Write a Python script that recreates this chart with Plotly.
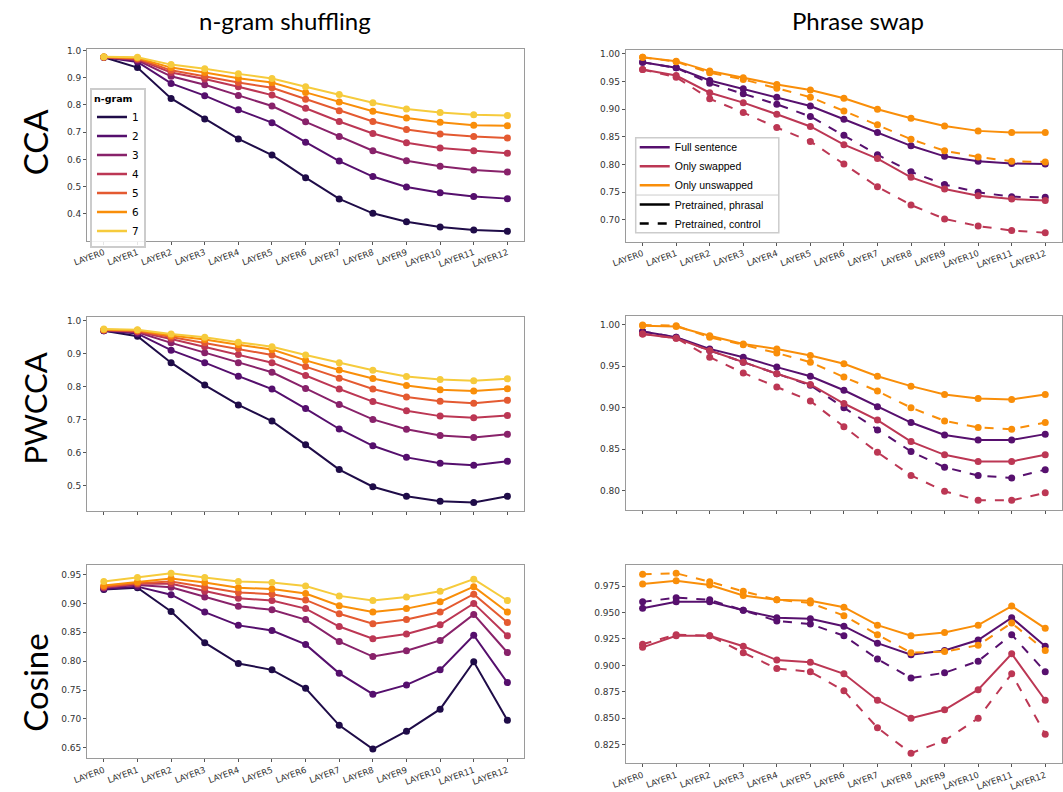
import plotly.graph_objects as go

W, H = 1063, 792

layers = ["LAYER0", "LAYER1", "LAYER2", "LAYER3", "LAYER4", "LAYER5", "LAYER6",
          "LAYER7", "LAYER8", "LAYER9", "LAYER10", "LAYER11", "LAYER12"]
ngram_names = ["1", "2", "3", "4", "5", "6", "7"]

# ---- CCA, n-gram shuffling
cca_ng1 = [0.975, 0.937, 0.824, 0.748, 0.675, 0.616, 0.533, 0.455, 0.402, 0.371, 0.352, 0.341, 0.336]
cca_ng2 = [0.975, 0.958, 0.879, 0.834, 0.782, 0.735, 0.663, 0.594, 0.537, 0.499, 0.478, 0.464, 0.456]
cca_ng3 = [0.975, 0.964, 0.905, 0.874, 0.835, 0.796, 0.738, 0.684, 0.632, 0.595, 0.575, 0.561, 0.554]
cca_ng4 = [0.975, 0.967, 0.919, 0.895, 0.867, 0.836, 0.788, 0.739, 0.695, 0.661, 0.642, 0.632, 0.623]
cca_ng5 = [0.976, 0.970, 0.927, 0.905, 0.882, 0.863, 0.821, 0.779, 0.739, 0.710, 0.693, 0.684, 0.679]
cca_ng6 = [0.976, 0.972, 0.937, 0.919, 0.898, 0.882, 0.846, 0.811, 0.777, 0.752, 0.736, 0.725, 0.724]
cca_ng7 = [0.977, 0.975, 0.948, 0.933, 0.914, 0.897, 0.867, 0.838, 0.808, 0.785, 0.772, 0.764, 0.761]

# ---- PWCCA, n-gram shuffling
pw_ng1 = [0.970, 0.953, 0.873, 0.805, 0.745, 0.696, 0.624, 0.549, 0.497, 0.468, 0.453, 0.449, 0.468]
pw_ng2 = [0.970, 0.961, 0.911, 0.873, 0.832, 0.793, 0.734, 0.672, 0.621, 0.586, 0.568, 0.562, 0.574]
pw_ng3 = [0.971, 0.965, 0.933, 0.903, 0.873, 0.844, 0.795, 0.746, 0.701, 0.671, 0.652, 0.646, 0.656]
pw_ng4 = [0.972, 0.967, 0.945, 0.921, 0.898, 0.873, 0.834, 0.793, 0.755, 0.727, 0.711, 0.706, 0.713]
pw_ng5 = [0.972, 0.969, 0.951, 0.933, 0.916, 0.896, 0.861, 0.826, 0.793, 0.769, 0.756, 0.750, 0.759]
pw_ng6 = [0.973, 0.971, 0.955, 0.943, 0.927, 0.913, 0.880, 0.851, 0.825, 0.804, 0.791, 0.787, 0.794]
pw_ng7 = [0.975, 0.973, 0.960, 0.950, 0.935, 0.921, 0.896, 0.873, 0.850, 0.831, 0.822, 0.818, 0.824]

# ---- Cosine, n-gram shuffling
cos_ng1 = [0.924, 0.927, 0.886, 0.832, 0.796, 0.785, 0.753, 0.689, 0.648, 0.679, 0.717, 0.799, 0.698]
cos_ng2 = [0.925, 0.929, 0.915, 0.885, 0.862, 0.853, 0.829, 0.779, 0.743, 0.759, 0.785, 0.845, 0.763]
cos_ng3 = [0.927, 0.932, 0.928, 0.911, 0.895, 0.889, 0.872, 0.834, 0.808, 0.818, 0.836, 0.881, 0.815]
cos_ng4 = [0.928, 0.934, 0.934, 0.921, 0.909, 0.905, 0.891, 0.860, 0.839, 0.847, 0.863, 0.900, 0.844]
cos_ng5 = [0.929, 0.935, 0.938, 0.928, 0.919, 0.916, 0.906, 0.882, 0.865, 0.872, 0.885, 0.916, 0.867]
cos_ng6 = [0.931, 0.937, 0.943, 0.936, 0.927, 0.925, 0.917, 0.896, 0.885, 0.891, 0.903, 0.929, 0.885]
cos_ng7 = [0.938, 0.945, 0.952, 0.945, 0.938, 0.936, 0.930, 0.913, 0.905, 0.911, 0.921, 0.942, 0.905]

# ---- CCA, phrase swap  (solid = pretrained phrasal, dashed = pretrained control)
cca_full_phr = [0.985, 0.975, 0.952, 0.937, 0.922, 0.906, 0.882, 0.858, 0.834, 0.815, 0.806, 0.802, 0.801]
cca_full_ctl = [0.985, 0.975, 0.947, 0.928, 0.909, 0.887, 0.853, 0.818, 0.787, 0.764, 0.750, 0.742, 0.741]
cca_swap_phr = [0.972, 0.961, 0.930, 0.912, 0.891, 0.869, 0.836, 0.811, 0.777, 0.756, 0.744, 0.738, 0.735]
cca_swap_ctl = [0.972, 0.958, 0.919, 0.894, 0.867, 0.842, 0.801, 0.760, 0.727, 0.702, 0.689, 0.681, 0.677]
cca_unsw_phr = [0.994, 0.987, 0.969, 0.957, 0.945, 0.935, 0.920, 0.900, 0.884, 0.870, 0.861, 0.858, 0.858]
cca_unsw_ctl = [0.994, 0.986, 0.966, 0.954, 0.938, 0.922, 0.897, 0.872, 0.846, 0.825, 0.814, 0.806, 0.805]

# ---- PWCCA, phrase swap
pw_full_phr = [0.992, 0.985, 0.971, 0.961, 0.949, 0.938, 0.921, 0.901, 0.882, 0.867, 0.861, 0.861, 0.868]
pw_full_ctl = [0.992, 0.985, 0.969, 0.955, 0.941, 0.927, 0.900, 0.873, 0.847, 0.828, 0.818, 0.815, 0.825]
pw_swap_phr = [0.989, 0.984, 0.969, 0.955, 0.941, 0.928, 0.905, 0.885, 0.859, 0.843, 0.835, 0.835, 0.843]
pw_swap_ctl = [0.989, 0.984, 0.961, 0.942, 0.925, 0.908, 0.877, 0.846, 0.818, 0.799, 0.788, 0.788, 0.797]
pw_unsw_phr = [0.999, 0.998, 0.987, 0.977, 0.971, 0.963, 0.953, 0.938, 0.926, 0.916, 0.911, 0.910, 0.916]
pw_unsw_ctl = [1.000, 0.999, 0.985, 0.976, 0.966, 0.955, 0.937, 0.920, 0.900, 0.884, 0.876, 0.874, 0.882]

# ---- Cosine, phrase swap
cos_full_phr = [0.954, 0.960, 0.960, 0.952, 0.945, 0.944, 0.937, 0.921, 0.910, 0.914, 0.924, 0.945, 0.918]
cos_full_ctl = [0.960, 0.964, 0.962, 0.952, 0.942, 0.939, 0.928, 0.906, 0.888, 0.893, 0.904, 0.929, 0.894]
cos_swap_phr = [0.917, 0.928, 0.928, 0.918, 0.905, 0.903, 0.892, 0.867, 0.850, 0.858, 0.877, 0.911, 0.867]
cos_swap_ctl = [0.920, 0.929, 0.928, 0.912, 0.897, 0.894, 0.876, 0.841, 0.817, 0.829, 0.850, 0.892, 0.835]
cos_unsw_phr = [0.977, 0.980, 0.976, 0.966, 0.962, 0.961, 0.955, 0.938, 0.928, 0.931, 0.938, 0.956, 0.935]
cos_unsw_ctl = [0.986, 0.987, 0.979, 0.970, 0.962, 0.959, 0.947, 0.929, 0.912, 0.913, 0.919, 0.940, 0.914]

ngram_colors = ["#1f0c48", "#550f6d", "#88226a", "#bc3754", "#e45a31", "#f98e09", "#f6cb3c"]
swap_names = ["Full sentence", "Only swapped", "Only unswapped"]
swap_colors = ["#57106e", "#bc3754", "#f98e09"]
style_names = ["Pretrained, phrasal", "Pretrained, control"]

ngram_sets = {
    1: [cca_ng1, cca_ng2, cca_ng3, cca_ng4, cca_ng5, cca_ng6, cca_ng7],
    3: [pw_ng1, pw_ng2, pw_ng3, pw_ng4, pw_ng5, pw_ng6, pw_ng7],
    5: [cos_ng1, cos_ng2, cos_ng3, cos_ng4, cos_ng5, cos_ng6, cos_ng7],
}
swap_sets = {
    2: [(cca_full_phr, cca_full_ctl), (cca_swap_phr, cca_swap_ctl), (cca_unsw_phr, cca_unsw_ctl)],
    4: [(pw_full_phr, pw_full_ctl), (pw_swap_phr, pw_swap_ctl), (pw_unsw_phr, pw_unsw_ctl)],
    6: [(cos_full_phr, cos_full_ctl), (cos_swap_phr, cos_swap_ctl), (cos_unsw_phr, cos_unsw_ctl)],
}

fig = go.Figure()

def ax(i):
    return ("x" if i == 1 else f"x{i}"), ("y" if i == 1 else f"y{i}")

for i, series in ngram_sets.items():
    xa, ya = ax(i)
    for k, vals in enumerate(series):
        fig.add_trace(go.Scatter(x=layers, y=vals, mode="lines+markers", xaxis=xa, yaxis=ya,
                                 line=dict(color=ngram_colors[k], width=2),
                                 marker=dict(size=7, color=ngram_colors[k]),
                                 showlegend=False))

for i, series in swap_sets.items():
    xa, ya = ax(i)
    for k, (phr, ctl) in enumerate(series):
        fig.add_trace(go.Scatter(x=layers, y=ctl, mode="lines+markers", xaxis=xa, yaxis=ya,
                                 line=dict(color=swap_colors[k], width=2, dash="dash"),
                                 marker=dict(size=7, color=swap_colors[k]),
                                 showlegend=False))
        fig.add_trace(go.Scatter(x=layers, y=phr, mode="lines+markers", xaxis=xa, yaxis=ya,
                                 line=dict(color=swap_colors[k], width=2),
                                 marker=dict(size=7, color=swap_colors[k]),
                                 showlegend=False))

# legend-only entries
for k, nm in enumerate(ngram_names):
    fig.add_trace(go.Scatter(x=[None], y=[None], mode="lines", name=nm, legend="legend",
                             line=dict(color=ngram_colors[k], width=2.5)))
for k, nm in enumerate(swap_names):
    fig.add_trace(go.Scatter(x=[None], y=[None], mode="lines", name=nm, legend="legend2",
                             xaxis="x2", yaxis="y2",
                             line=dict(color=swap_colors[k], width=2.5)))
for k, nm in enumerate(style_names):
    fig.add_trace(go.Scatter(x=[None], y=[None], mode="lines", name=nm, legend="legend3",
                             xaxis="x2", yaxis="y2",
                             line=dict(color="black", width=2.5, dash="solid" if k == 0 else "dash")))

# axes geometry (pixels)
xdom = {1: (74, 517), 2: (620, 1062)}
boxes = {1: (1, 46, 240), 2: (2, 47, 241), 3: (1, 317, 513), 4: (2, 316, 512), 5: (1, 568, 763), 6: (2, 568, 768)}
yranges = {1: [0.302, 1.007], 2: [0.661, 1.008], 3: [0.424, 1.012],
           4: [0.7765, 1.011], 5: [0.632, 0.966], 6: [0.8075, 0.9946]}
ydticks = {1: 0.1, 2: 0.05, 3: 0.1, 4: 0.05, 5: 0.05, 6: 0.025}
yfmt = {1: ".1f", 2: ".2f", 3: ".1f", 4: ".2f", 5: ".2f", 6: ".3f"}

tickfont = dict(family="DejaVu Sans", size=9, color="#333333")
layout = {}
for i, (col, top, bot) in boxes.items():
    xk = "xaxis" if i == 1 else f"xaxis{i}"
    yk = "yaxis" if i == 1 else f"yaxis{i}"
    xa, ya = ax(i)
    x0, x1 = xdom[col]
    layout[xk] = dict(domain=[x0 / W, x1 / W], anchor=ya, type="category",
                      categoryorder="array", categoryarray=layers, range=[-0.5, 12.5],
                      showgrid=False, zeroline=False, showline=True, mirror=True,
                      linecolor="#9a9a9a", linewidth=1, ticks="outside", ticklen=3,
                      tickcolor="#555555", tickangle=-20,
                      tickfont=dict(family="DejaVu Sans", size=8.5, color="#333333"),
                      showticklabels=(i not in (3, 4)))
    layout[yk] = dict(domain=[1 - bot / H, 1 - top / H], anchor=xa, range=yranges[i],
                      dtick=ydticks[i], tick0=0, tickformat=yfmt[i],
                      showgrid=False, zeroline=False, showline=True, mirror=True,
                      linecolor="#9a9a9a", linewidth=1, ticks="outside", ticklen=3,
                      tickcolor="#555555", tickfont=tickfont)

fig.update_layout(**layout)

annots = [
    dict(text="n-gram shuffling", x=275 / W, y=1 - 18 / H, font=dict(family="Lato", size=24, color="black")),
    dict(text="Phrase swap", x=855 / W, y=1 - 18 / H, font=dict(family="Lato", size=24, color="black")),
    dict(text="CCA", x=21 / W, y=1 - 140 / H, textangle=-90, font=dict(family="Lato", size=33, color="black")),
    dict(text="PWCCA", x=21 / W, y=1 - 410 / H, textangle=-90, font=dict(family="Lato", size=31, color="black")),
    dict(text="Cosine", x=21 / W, y=1 - 687 / H, textangle=-90, font=dict(family="Lato", size=33, color="black")),
]
for a in annots:
    a.update(xref="paper", yref="paper", showarrow=False, xanchor="center", yanchor="middle")

shapes = [
    dict(type="rect", xref="paper", yref="paper", x0=630 / W, x1=775 / W, y0=1 - 232 / H, y1=1 - 136 / H,
         line=dict(color="#cccccc", width=1.5), fillcolor="rgba(255,255,255,0.85)", layer="above"),
    dict(type="line", xref="paper", yref="paper", x0=630 / W, x1=775 / W, y0=1 - 194 / H, y1=1 - 194 / H,
         line=dict(color="#cccccc", width=1), layer="above"),
]

fig.update_layout(
    width=W, height=H, autosize=False,
    margin=dict(l=0, r=0, t=0, b=0),
    paper_bgcolor="white", plot_bgcolor="white",
    annotations=annots, shapes=shapes,
    legend=dict(x=77 / W, y=1 - 86 / H, xanchor="left", yanchor="top",
                bgcolor="rgba(255,255,255,0.85)", bordercolor="#cccccc", borderwidth=2,
                font=dict(family="DejaVu Sans", size=10.5, color="black"),
                title=dict(text="<b>n-gram</b>", font=dict(family="DejaVu Sans", size=9.5, color="black")),
                tracegroupgap=0),
    legend2=dict(x=629 / W, y=1 - 131 / H, xanchor="left", yanchor="top",
                 bgcolor="rgba(0,0,0,0)", borderwidth=0,
                 font=dict(family="Liberation Sans", size=10.5, color="black"), tracegroupgap=0),
    legend3=dict(x=629 / W, y=1 - 189 / H, xanchor="left", yanchor="top",
                 bgcolor="rgba(0,0,0,0)", borderwidth=0,
                 font=dict(family="Liberation Sans", size=10.5, color="black"), tracegroupgap=0),
)

fig.write_html("out.html")
